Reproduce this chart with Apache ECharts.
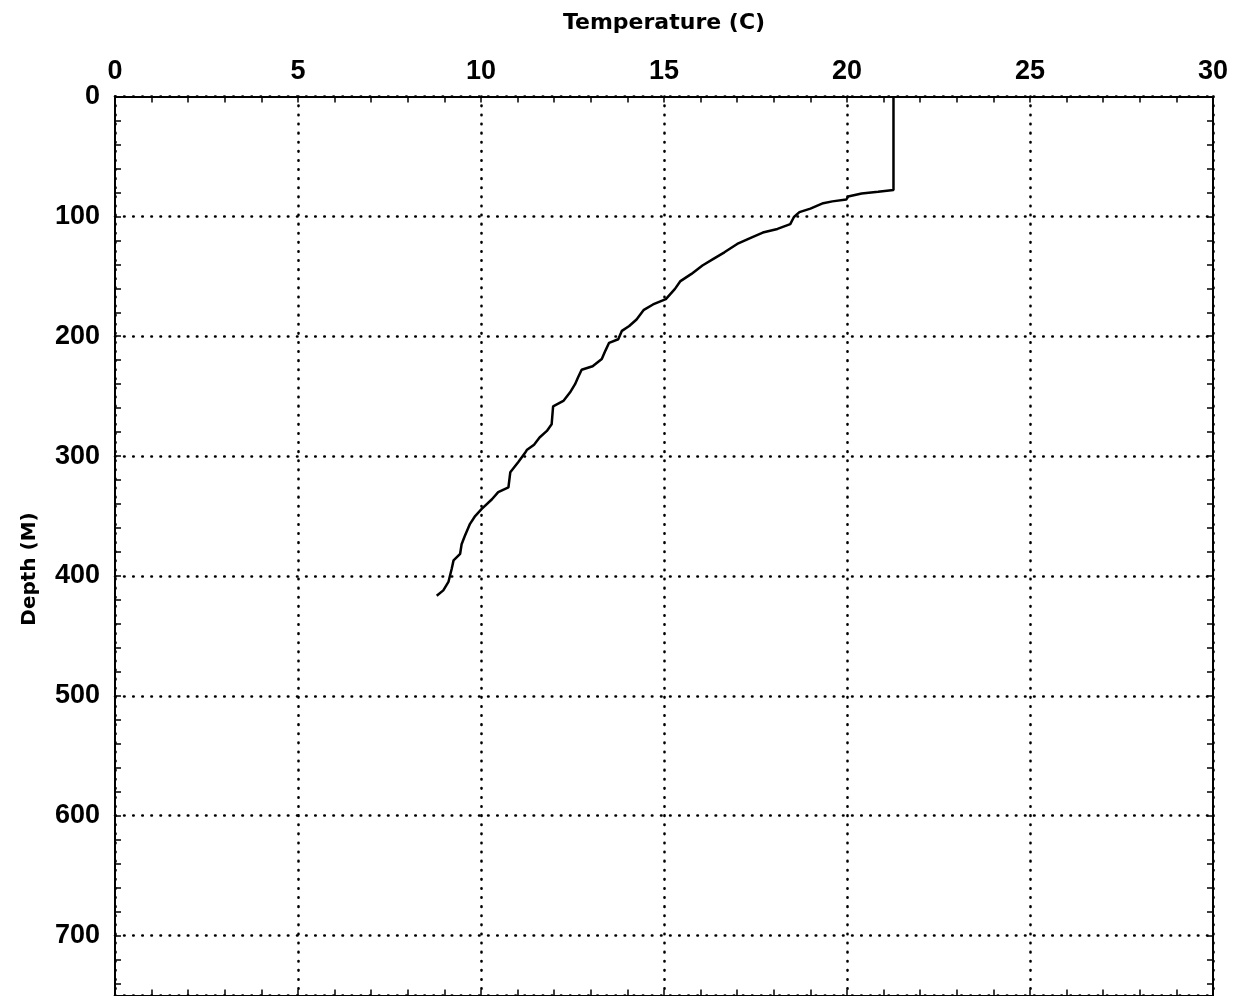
<!DOCTYPE html>
<html>
<head>
<meta charset="utf-8">
<script src="https://cdn.jsdelivr.net/npm/echarts@6/dist/echarts.min.js"></script>
<style>
html,body{margin:0;padding:0;background:#fff;}
#chart{width:1238px;height:996px;}
</style>
</head>
<body>
<div id="chart"></div>
<script>
const temperature = [21.27,21.27,20.85,20.4,20.03,19.98,19.6,19.35,19.0,18.7,18.55,18.45,18.1,17.7,17.4,17.0,16.65,16.35,16.05,15.75,15.45,15.3,15.05,14.7,14.45,14.25,14.05,13.85,13.75,13.5,13.4,13.3,13.05,12.75,12.65,12.57,12.43,12.25,11.97,11.93,11.8,11.6,11.45,11.25,11.2,11.02,10.8,10.75,10.47,10.3,10.02,9.84,9.7,9.56,9.47,9.43,9.25,9.2,9.11,8.97,8.79];
const depth = [0,78,79.5,81,83.5,86,87.5,89,93.5,96.5,100.5,106.5,110.5,113.5,117.5,123,130,135.5,141,148,154,160.5,169,173.5,178,186,191.5,195.5,202.5,205.5,212,219,225,228,234.5,240,247,254,258.5,273.5,279,284.5,290.5,295,297.5,305,313.5,326,330,336,344,350,356.5,366.5,373.5,381.5,387,394,405,412,416.5];
const xTicks = [0,5,10,15,20,25,30];
const yTicks = [0,100,200,300,400,500,600,700];
const xName = 'Temperature (C)';
const yName = 'Depth (M)';

const chart = echarts.init(document.getElementById('chart'));
const labelFont = {color:'#000', fontFamily:'Liberation Sans', fontWeight:'bold', fontSize:27};
const dotted = {color:'#000', width:2.6, type:[0.5,8.6], cap:'round'};
const axisLineStyle = {onZero:false, lineStyle:{color:'#000', width:2}};
const tick = {show:true, inside:true, length:6, lineStyle:{color:'#000', width:1.5}};
const minor = {show:true, splitNumber:5, length:6, lineStyle:{color:'#000', width:1.5}};

const xMin = xTicks[0], xMax = xTicks[xTicks.length-1];
const yMin = yTicks[0], yMax = 750;

chart.setOption({
  backgroundColor:'#fff',
  animation:false,
  grid:{left:115, top:96.5, width:1098, height:899, containLabel:false},
  xAxis:[
    {type:'value', position:'top', min:xMin, max:xMax, interval:5,
     name:xName, nameLocation:'middle', nameGap:62,
     nameTextStyle:{color:'#000', fontFamily:'DejaVu Sans', fontWeight:'bold', fontSize:22},
     axisLine:axisLineStyle, axisTick:tick, minorTick:minor,
     axisLabel:Object.assign({margin:11}, labelFont),
     splitLine:{show:true, lineStyle:dotted}},
    {type:'value', position:'bottom', min:xMin, max:xMax, interval:5,
     axisLine:axisLineStyle, axisTick:tick, minorTick:minor,
     axisLabel:{show:false}, splitLine:{show:false}}
  ],
  yAxis:[
    {type:'value', inverse:true, min:yMin, max:yMax, interval:100, position:'left',
     axisLine:axisLineStyle, axisTick:tick, minorTick:minor,
     axisLabel:Object.assign({margin:15, showMaxLabel:false}, labelFont),
     splitLine:{show:true, lineStyle:dotted}},
    {type:'value', inverse:true, min:yMin, max:yMax, interval:100, position:'right',
     axisLine:axisLineStyle, axisTick:tick, minorTick:minor,
     axisLabel:{show:false}, splitLine:{show:false}}
  ],
  graphic:[{
    type:'text', x:30, y:569, rotation:Math.PI/2,
    style:{text:yName, fill:'#000', font:'bold 20px "DejaVu Sans"', textAlign:'center', textVerticalAlign:'middle'}
  }],
  series:[{
    type:'line', xAxisIndex:0, yAxisIndex:0,
    data: temperature.map((t,i)=>[t, depth[i]]),
    showSymbol:false, symbol:'none',
    lineStyle:{color:'#000', width:2.5},
    silent:true
  }]
});
</script>
</body>
</html>
